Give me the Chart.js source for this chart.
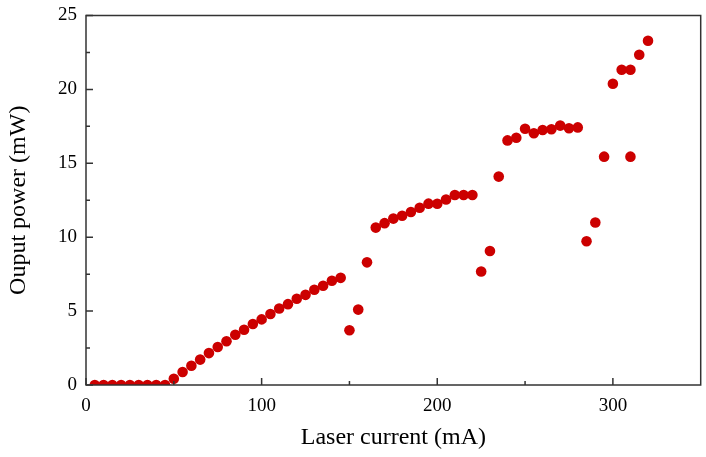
<!DOCTYPE html>
<html>
<head>
<meta charset="utf-8">
<script src="https://cdn.jsdelivr.net/npm/chart.js@4/dist/chart.umd.min.js"></script>
<style>
  html, body { margin: 0; padding: 0; background: #fff; }
  #wrap { width: 706px; height: 457px; }
</style>
</head>
<body>
<div id="wrap"><canvas id="chart"></canvas></div>
<script>
// laser current (mA) and output power (mW)
var current = [5, 10, 15, 20, 25, 30, 35, 40, 45, 50, 55, 60, 65, 70, 75, 80, 85, 90, 95, 100,
  105, 110, 115, 120, 125, 130, 135, 140, 145, 150, 155, 160, 165, 170, 175, 180, 185, 190, 195, 200,
  205, 210, 215, 220, 225, 230, 235, 240, 245, 250, 255, 260, 265, 270, 275, 280, 285, 290, 295, 300,
  305, 310, 310, 315, 320];
var power = [0, 0, 0, 0, 0, 0, 0, 0, 0, 0.42, 0.88, 1.3, 1.72, 2.16, 2.57, 2.96, 3.4, 3.74, 4.13, 4.44,
  4.8, 5.18, 5.47, 5.84, 6.1, 6.44, 6.72, 7.05, 7.25, 3.7, 5.1, 8.3, 10.65, 10.95, 11.26, 11.45, 11.7, 11.99, 12.27, 12.26,
  12.55, 12.86, 12.86, 12.86, 7.68, 9.07, 14.1, 16.55, 16.73, 17.34, 17.03, 17.25, 17.3, 17.55, 17.37, 17.43, 9.73, 10.99, 15.45, 20.38,
  21.33, 21.33, 15.45, 22.34, 23.29];

var xTicks = [0, 100, 200, 300];
var xMinor = [50, 150, 250];
var yTicks = [0, 5, 10, 15, 20, 25];
var yMinor = [2.5, 7.5, 12.5, 17.5, 22.5];

var points = current.map(function (c, i) { return { x: c, y: power[i] }; });

var serif = "'Liberation Serif', 'Times New Roman', serif";
var frameColor = '#333';

// box round the plot with inward ticks on the left and bottom axes
var framePlugin = {
  id: 'frame',
  afterDraw: function (chart) {
    var ctx = chart.ctx, a = chart.chartArea;
    var xs = chart.scales.x, ys = chart.scales.y;
    ctx.save();
    ctx.strokeStyle = frameColor;
    ctx.lineWidth = 1.5;
    ctx.strokeRect(a.left, a.top, a.right - a.left, a.bottom - a.top);
    ctx.beginPath();
    xTicks.forEach(function (v) {
      var p = xs.getPixelForValue(v);
      ctx.moveTo(p, a.bottom); ctx.lineTo(p, a.bottom - 7);
    });
    xMinor.forEach(function (v) {
      var p = xs.getPixelForValue(v);
      ctx.moveTo(p, a.bottom); ctx.lineTo(p, a.bottom - 4);
    });
    yTicks.forEach(function (v) {
      var p = ys.getPixelForValue(v);
      ctx.moveTo(a.left, p); ctx.lineTo(a.left + 7, p);
    });
    yMinor.forEach(function (v) {
      var p = ys.getPixelForValue(v);
      ctx.moveTo(a.left, p); ctx.lineTo(a.left + 4, p);
    });
    ctx.stroke();
    ctx.restore();
  }
};

new Chart(document.getElementById('chart'), {
  type: 'scatter',
  data: {
    datasets: [{
      data: points,
      backgroundColor: 'rgb(204,0,0)',
      borderColor: 'rgb(204,0,0)',
      borderWidth: 0,
      pointRadius: 5.3,
      pointHoverRadius: 5.3
    }]
  },
  options: {
    responsive: true,
    maintainAspectRatio: false,
    animation: false,
    layout: { padding: { top: 15.5, right: 4, left: 0, bottom: 0 } },
    plugins: { legend: { display: false }, tooltip: { enabled: false } },
    scales: {
      x: {
        type: 'linear',
        min: 0,
        max: 350,
        grid: { display: false, drawTicks: false },
        border: { display: false },
        afterBuildTicks: function (s) { s.ticks = xTicks.map(function (v) { return { value: v }; }); },
        afterFit: function (s) { s.height = 72; s.paddingLeft = 0; s.paddingRight = 0; },
        ticks: { color: '#000', padding: 10, font: { family: serif, size: 19 } },
        title: {
          display: true,
          text: 'Laser current (mA)',
          color: '#000',
          padding: { top: 5, bottom: 5 },
          font: { family: serif, size: 24 }
        }
      },
      y: {
        type: 'linear',
        min: 0,
        max: 25,
        grid: { display: false, drawTicks: false },
        border: { display: false },
        afterBuildTicks: function (s) { s.ticks = yTicks.map(function (v) { return { value: v }; }); },
        afterFit: function (s) { s.width = 86; s.paddingTop = 0; s.paddingBottom = 0; },
        ticks: { color: '#000', padding: 9, font: { family: serif, size: 19 } },
        title: {
          display: true,
          text: 'Ouput power (mW)',
          color: '#000',
          padding: { top: 4, bottom: 4 },
          font: { family: serif, size: 24 }
        }
      }
    }
  },
  plugins: [framePlugin]
});
</script>
</body>
</html>
